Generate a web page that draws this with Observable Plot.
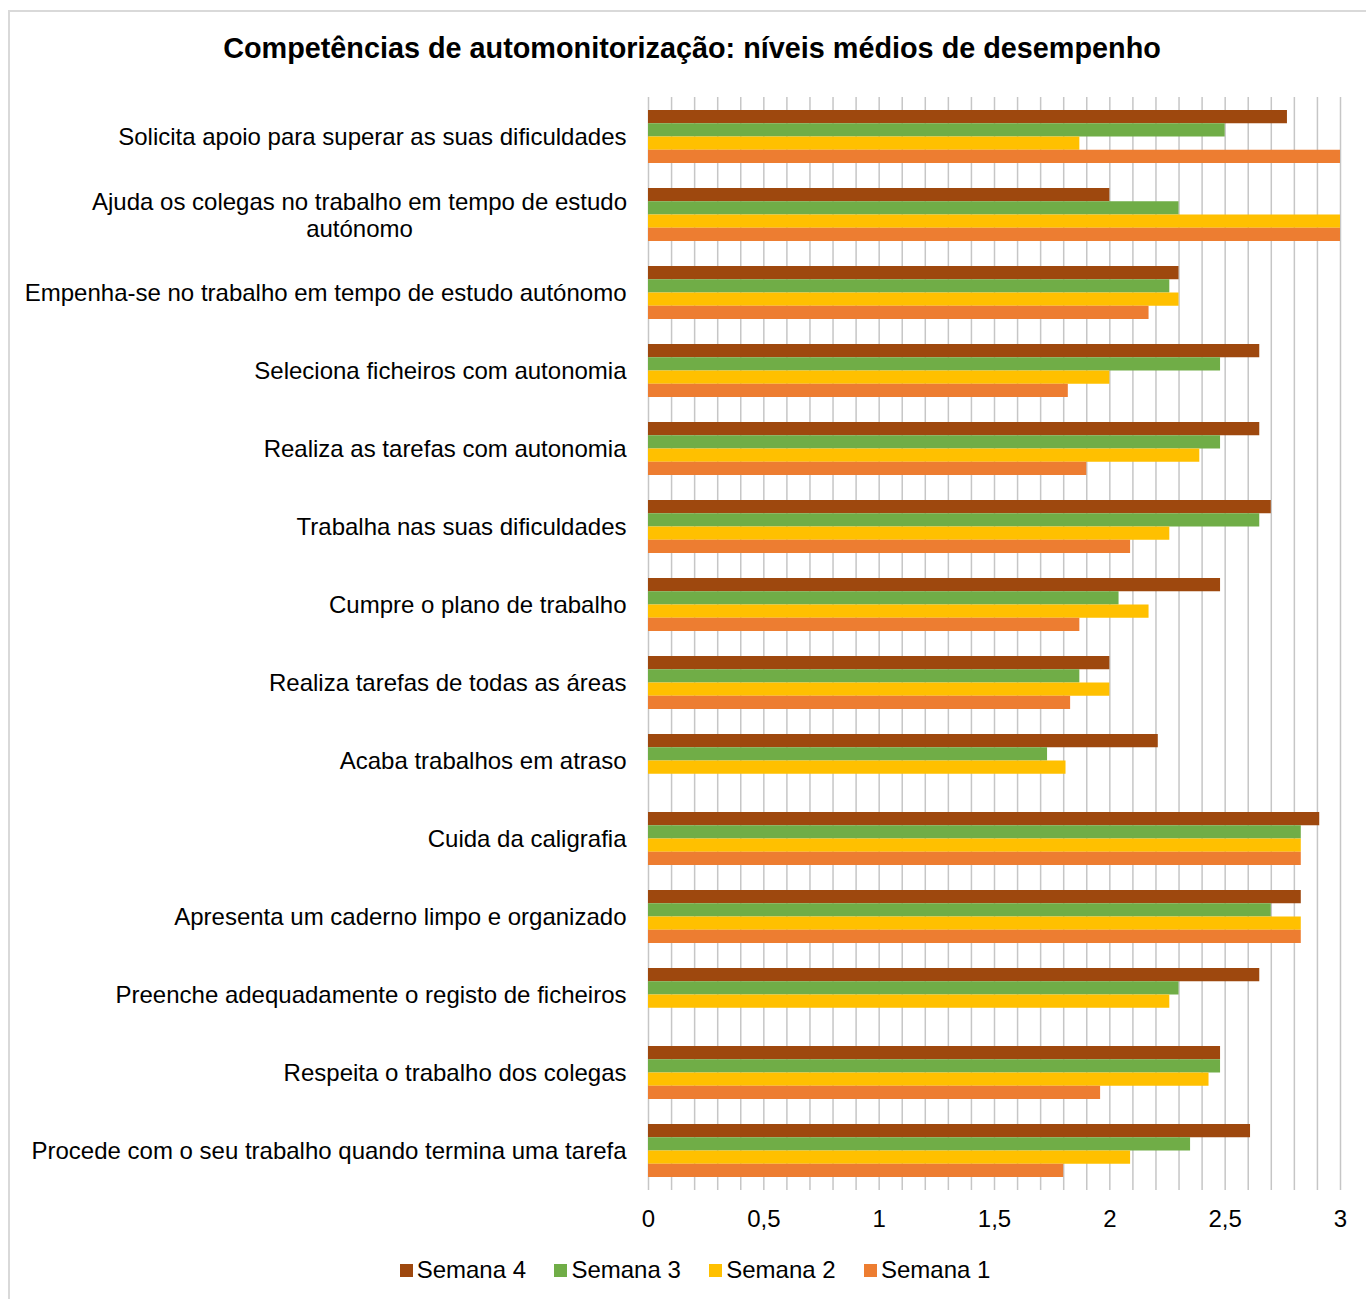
<!DOCTYPE html>
<html>
<head>
<meta charset="utf-8">
<script src="https://cdn.jsdelivr.net/npm/d3@7"></script>
<script src="https://cdn.jsdelivr.net/npm/@observablehq/plot@0.6"></script>
<style>
  html, body { margin: 0; padding: 0; background: #fff; overflow: hidden; }
  body { width: 1366px; height: 1299px; position: relative; font-family: "Liberation Sans", Arial, sans-serif; color: #000; }
  #frame { position: absolute; left: 8px; top: 10px; width: 1400px; height: 1400px; border: 2px solid #d9d9d9; box-sizing: border-box; }
  #title { position: absolute; left: 0; width: 1384px; top: 31px; text-align: center; font-weight: bold; font-size: 28.8px; line-height: 34px; }
  #chart { position: absolute; left: 0; top: 80px; }
  #chart svg { background: transparent !important; }
  #legend { position: absolute; left: 0; width: 1390px; top: 1255px; text-align: center; font-size: 24px; line-height: 30px; white-space: nowrap; }
  #legend span.item { display: inline-block; margin: 0 14.2px; }
  #legend span.sw { display: inline-block; width: 13px; height: 13px; margin-right: 4px; vertical-align: 1px; }
</style>
</head>
<body>
<div id="frame"></div>
<div id="title">Competências de automonitorização: níveis médios de desempenho</div>
<div id="chart"></div>
<div id="legend"></div>
<script>
const categories = [
  "Solicita apoio para superar as suas dificuldades",
  "Ajuda os colegas no trabalho em tempo de estudo autónomo",
  "Empenha-se no trabalho em tempo de estudo autónomo",
  "Seleciona ficheiros com autonomia",
  "Realiza as tarefas com autonomia",
  "Trabalha nas suas dificuldades",
  "Cumpre o plano de trabalho",
  "Realiza tarefas de todas as áreas",
  "Acaba trabalhos em atraso",
  "Cuida da caligrafia",
  "Apresenta um caderno limpo e organizado",
  "Preenche adequadamente o registo de ficheiros",
  "Respeita o trabalho dos colegas",
  "Procede com o seu trabalho quando termina uma tarefa"
];
const seriesNames = ["Semana 4", "Semana 3", "Semana 2", "Semana 1"];
const seriesColors = ["#9E480E", "#70AD47", "#FFC000", "#ED7D31"];
const semana4 = [2.77, 2.00, 2.30, 2.65, 2.65, 2.70, 2.48, 2.00, 2.21, 2.91, 2.83, 2.65, 2.48, 2.61];
const semana3 = [2.50, 2.30, 2.26, 2.48, 2.48, 2.65, 2.04, 1.87, 1.73, 2.83, 2.70, 2.30, 2.48, 2.35];
const semana2 = [1.87, 3.00, 2.30, 2.00, 2.39, 2.26, 2.17, 2.00, 1.81, 2.83, 2.83, 2.26, 2.43, 2.09];
const semana1 = [3.00, 3.00, 2.17, 1.82, 1.90, 2.09, 1.87, 1.83, null, 2.83, 2.83, null, 1.96, 1.80];
const xTicks = [0, 0.5, 1, 1.5, 2, 2.5, 3];
const wrappedLabel = "Ajuda os colegas no trabalho em tempo de estudo\nautónomo";

const allSeries = [semana4, semana3, semana2, semana1];
const table = [];
allSeries.forEach((vals, si) => {
  vals.forEach((v, ci) => {
    if (v != null) table.push({categoria: categories[ci], serie: seriesNames[si], valor: v, idx: si});
  });
});

const bandPx = 53; // total bar group height in px
const barPx = bandPx / 4;
const labelSize = 24;

const marks = [
  Plot.gridX({ticks: 30, stroke: "#c6c6c6", strokeOpacity: 1, strokeWidth: 1.5}),
];
seriesNames.forEach((name, i) => {
  marks.push(Plot.barX(table.filter(d => d.serie === name), {
    x: "valor", y: "categoria",
    fill: seriesColors[i],
    insetTop: i * barPx,
    insetBottom: (3 - i) * barPx
  }));
});
marks.push(
  Plot.axisX({ticks: xTicks, tickSize: 0, tickPadding: 19, fontSize: labelSize,
    tickFormat: d => String(d).replace(".", ",")}),
  Plot.axisY({tickSize: 0, tickPadding: 22, fontSize: labelSize,
    tickFormat: d => d === categories[1] ? "" : d}),
  Plot.text([categories[1]], {
    y: d => d, text: () => wrappedLabel, frameAnchor: "left",
    textAnchor: "middle", dx: -289, fontSize: labelSize, lineHeight: 1.13, fill: "#000"
  })
);

const chart = Plot.plot({
  width: 1366,
  height: 1160,
  marginLeft: 648,
  marginRight: 26,
  marginTop: 17,
  marginBottom: 50,
  style: {fontFamily: "'Liberation Sans', Arial, sans-serif", color: "#000", background: "transparent", overflow: "visible"},
  x: {domain: [0, 3], label: null},
  y: {domain: categories, paddingInner: 0.32, paddingOuter: 0.16, label: null},
  marks
});
document.getElementById("chart").appendChild(chart);

const legend = document.getElementById("legend");
seriesNames.forEach((name, i) => {
  const item = document.createElement("span");
  item.className = "item";
  const sw = document.createElement("span");
  sw.className = "sw";
  sw.style.background = seriesColors[i];
  item.appendChild(sw);
  item.appendChild(document.createTextNode(name));
  legend.appendChild(item);
});
</script>
</body>
</html>
